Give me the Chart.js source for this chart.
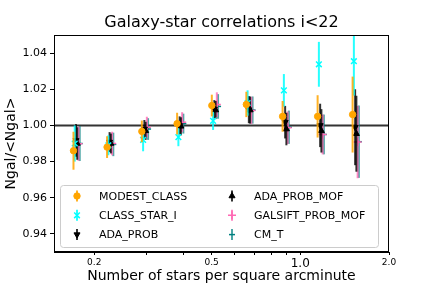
<!DOCTYPE html>
<html>
<head>
<meta charset="utf-8">
<script src="https://cdn.jsdelivr.net/npm/chart.js@4.4.0/dist/chart.umd.min.js"></script>
<style>
  html, body { margin: 0; padding: 0; background: #fff; }
  canvas { display: block; }
</style>
</head>
<body>
<canvas id="chart" width="432" height="288"></canvas>
<script>
// bin centres (stars per square arcminute)
const binCenters = [0.170, 0.221, 0.290, 0.382, 0.501, 0.656, 0.871, 1.145, 1.505];

const seriesNames = ["MODEST_CLASS", "CLASS_STAR_I", "ADA_PROB", "ADA_PROB_MOF", "GALSIFT_PROB_MOF", "CM_T"];

const modestClass = [0.986, 0.988, 0.9967, 1.001, 1.011, 1.0116, 1.005, 1.005, 1.006];
const modestErr   = [0.0105, 0.006, 0.006, 0.006, 0.006, 0.007, 0.0085, 0.0117, 0.021];

const classStarI    = [0.990, 0.989, 0.992, 0.9935, 1.0025, 1.0124, 1.0194, 1.0338, 1.0355];
const classStarIErr = [0.010, 0.0055, 0.0063, 0.005, 0.005, 0.007, 0.009, 0.0124, 0.019];

const adaProb    = [0.9917, 0.9908, 0.998, 1.000, 1.009, 1.0087, 1.0018, 1.000, 0.999];
const adaProbErr = [0.009, 0.0055, 0.005, 0.005, 0.005, 0.0075, 0.009, 0.012, 0.021];

const adaProbMof    = [0.990, 0.990, 0.997, 0.9995, 1.0085, 1.0085, 0.998, 0.997, 0.9954];
const adaProbMofErr = [0.009, 0.0055, 0.005, 0.005, 0.005, 0.0075, 0.009, 0.012, 0.021];

const galsiftProbMof    = [0.9899, 0.990, 0.999, 1.0018, 1.0115, 1.0083, 0.9987, 0.995, 0.9908];
const galsiftProbMofErr = [0.0095, 0.0065, 0.0058, 0.0055, 0.0068, 0.0075, 0.009, 0.011, 0.020];

const cmT    = [0.990, 0.9895, 0.998, 1.001, 1.0105, 1.0085, 0.999, 0.995, 0.991];
const cmTErr = [0.0097, 0.0065, 0.006, 0.0055, 0.0068, 0.0075, 0.0092, 0.011, 0.020];

const xTickValues = [0.2, 0.3, 0.4, 0.5, 0.6, 0.7, 0.8, 0.9, 1.0, 2.0];
const xTickLabels = { 0.2: "0.2", 0.5: "0.5", 1: "1.0", 2: "2.0" };
const yTickValues = [0.94, 0.96, 0.98, 1.00, 1.02, 1.04];

Chart.defaults.font.family = "'DejaVu Sans', sans-serif";
Chart.defaults.color = "#000";

const seriesValues = [modestClass, classStarI, adaProb, adaProbMof, galsiftProbMof, cmT];
const seriesErrors = [modestErr, classStarIErr, adaProbErr, adaProbMofErr, galsiftProbMofErr, cmTErr];

// marker / bar styles per series
const styles = [
    { color: "#ffa500", bar: "rgba(255,165,0,0.85)",  point: "circle",   rot: 0,   r: 3.2, bw: 1 },
    { color: "#00ffff", bar: "rgba(0,255,255,0.85)",  point: "crossRot", rot: 0,   r: 4,   bw: 1.5 },
    { color: "#000000", bar: "rgba(0,0,0,0.8)",       point: "triangle", rot: 180, r: 3.5, bw: 1 },
    { color: "#000000", bar: "rgba(0,0,0,0.8)",       point: "triangle", rot: 0,   r: 3.5, bw: 1 },
    { color: "#ff69b4", bar: "rgba(255,105,180,0.8)", point: "cross",    rot: 0,   r: 4,   bw: 1.5 },
    { color: "#008080", bar: "rgba(0,128,128,0.7)",   point: "line",     rot: 0,   r: 3,   bw: 1.5 }
];

const datasets = seriesNames.map((name, s) => ({
    label: name,
    data: binCenters.map((x, i) => ({ x: x * (1 + 0.01 * s), y: seriesValues[s][i] })),
    errs: seriesErrors[s],
    barColor: styles[s].bar,
    pointStyle: styles[s].point,
    rotation: styles[s].rot,
    pointRadius: styles[s].r,
    backgroundColor: styles[s].color,
    borderColor: styles[s].color,
    borderWidth: styles[s].bw,
    showLine: false
}));

// vertical error bars through the y scale
const errorBars = {
    id: "errorBars",
    beforeDatasetDraw(chart, args) {
        const ds = chart.data.datasets[args.index];
        const y = chart.scales.y;
        const area = chart.chartArea;
        const ctx = chart.ctx;
        ctx.save();
        ctx.beginPath();
        ctx.rect(area.left, area.top, area.right - area.left, area.bottom - area.top);
        ctx.clip();
        ctx.strokeStyle = ds.barColor;
        ctx.lineWidth = 2;
        args.meta.data.forEach((pt, i) => {
            const v = ds.data[i].y, e = ds.errs[i];
            ctx.beginPath();
            ctx.moveTo(pt.x, y.getPixelForValue(v - e));
            ctx.lineTo(pt.x, y.getPixelForValue(v + e));
            ctx.stroke();
        });
        ctx.restore();
    }
};

// reference line at 1, frame, title and legend
const decorations = {
    id: "decorations",
    beforeDatasetsDraw(chart) {
        const { ctx, chartArea: a } = chart;
        const y1 = chart.scales.y.getPixelForValue(1.0);
        ctx.save();
        ctx.strokeStyle = "#333";
        ctx.lineWidth = 2;
        ctx.beginPath();
        ctx.moveTo(a.left, y1);
        ctx.lineTo(a.right, y1);
        ctx.stroke();
        ctx.restore();
    },
    afterDraw(chart) {
        const { ctx, chartArea: a } = chart;
        ctx.save();
        ctx.strokeStyle = "#000";
        ctx.lineWidth = 1;
        ctx.strokeRect(a.left + 0.5, a.top + 0.5, a.right - a.left - 1, a.bottom - a.top - 1);

        ctx.fillStyle = "#000";
        ctx.font = "16px 'DejaVu Sans'";
        ctx.textAlign = "center";
        ctx.textBaseline = "middle";
        ctx.fillText("Galaxy-star correlations i<22", (a.left + a.right) / 2, 23);

        // legend box
        const bx = a.left + 6, by = a.bottom - 67, bw = 318, bh = 62;
        ctx.fillStyle = "rgba(255,255,255,0.8)";
        ctx.strokeStyle = "#cccccc";
        ctx.beginPath();
        ctx.roundRect(bx + 0.5, by + 0.5, bw, bh, 3);
        ctx.fill();
        ctx.stroke();

        ctx.font = "11px 'DejaVu Sans'";
        ctx.textAlign = "left";
        chart.data.datasets.forEach((ds, s) => {
            const col = Math.floor(s / 3), row = s % 3;
            const mx = bx + 17 + col * 155;
            const my = by + 11 + row * 19.3;
            ctx.strokeStyle = ds.barColor;
            ctx.lineWidth = 2;
            ctx.beginPath();
            ctx.moveTo(mx, my - 5.5);
            ctx.lineTo(mx, my + 5.5);
            ctx.stroke();
            ctx.fillStyle = ds.backgroundColor;
            ctx.strokeStyle = ds.borderColor;
            ctx.lineWidth = ds.borderWidth;
            Chart.helpers.drawPoint(ctx, {
                pointStyle: ds.pointStyle, rotation: ds.rotation,
                radius: ds.pointRadius, borderWidth: ds.borderWidth
            }, mx, my);
            ctx.fillStyle = "#000";
            ctx.fillText(ds.label, mx + 22, my + 1);
        });
        ctx.restore();
    }
};

new Chart(document.getElementById("chart"), {
    type: "scatter",
    data: { datasets },
    plugins: [errorBars, decorations],
    options: {
        responsive: false,
        animation: false,
        layout: { padding: { top: 35, right: 43, left: 0, bottom: 0 } },
        plugins: { legend: { display: false }, title: { display: false }, tooltip: { enabled: false } },
        scales: {
            x: {
                type: "logarithmic",
                min: 0.146,
                max: 2.0,
                afterBuildTicks: (scale) => { scale.ticks = xTickValues.map((v) => ({ value: v })); },
                afterFit: (scale) => { scale.height = 36; },
                grid: { drawOnChartArea: false, drawTicks: true, tickLength: 3, color: "#000" },
                border: { display: true, color: "#000" },
                ticks: {
                    autoSkip: false,
                    maxRotation: 0,
                    padding: 2,
                    font: (c) => ({ size: c.tick && c.tick.value === 1 ? 12 : 9 }),
                    callback: (v) => xTickLabels[v] || ""
                },
                title: { display: true, text: "Number of stars per square arcminute", font: { size: 14 }, padding: { top: 0, bottom: 3 } }
            },
            y: {
                min: 0.93,
                max: 1.05,
                afterBuildTicks: (scale) => { scale.ticks = yTickValues.map((v) => ({ value: v })); },
                afterFit: (scale) => { scale.width = 54; },
                grid: { drawOnChartArea: false, drawTicks: true, tickLength: 4, color: "#000" },
                border: { display: true, color: "#000" },
                ticks: { font: { size: 11 }, padding: 3, callback: (v) => v.toFixed(2) },
                title: { display: true, text: "Ngal/<Ngal>", font: { size: 14 }, padding: { top: 3, bottom: 0 } }
            }
        }
    }
});
</script>
</body>
</html>
